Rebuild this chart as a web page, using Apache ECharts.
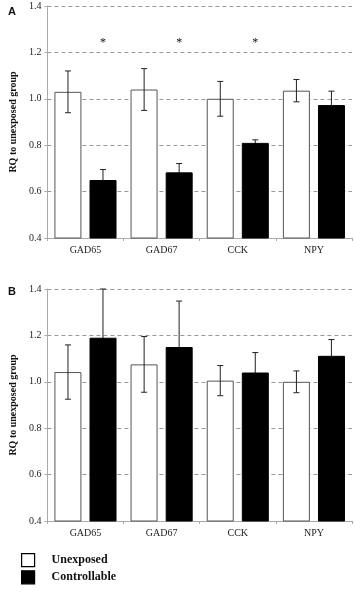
<!DOCTYPE html>
<html>
<head>
<meta charset="utf-8">
<script src="https://cdn.jsdelivr.net/npm/echarts@6/dist/echarts.min.js"></script>
<style>html,body{margin:0;padding:0;background:#fff}#main{width:355px;height:600px}</style>
</head>
<body>
<div id="main"></div>
<script>
var genes = ['GAD65', 'GAD67', 'CCK', 'NPY'];
var yTicks = [0.4, 0.6, 0.8, 1.0, 1.2, 1.4];

// panel A
var unexpA = [1.03, 1.04, 1.00, 1.035];
var unexpErrA = [0.09, 0.09, 0.075, 0.048];
var ctrlA = [0.65, 0.683, 0.81, 0.973];
var ctrlErrA = [0.045, 0.038, 0.013, 0.06];
var starsA = [0, 1, 2];   // categories marked *
var starLevel = 1.24;

// panel B
var unexpB = [1.042, 1.075, 1.005, 1.0];
var unexpErrB = [0.117, 0.12, 0.065, 0.047];
var ctrlB = [1.19, 1.15, 1.04, 1.112];
var ctrlErrB = [0.21, 0.198, 0.086, 0.07];

var BAR_W = 27;
var OFFSET = 17.5;
var serif = '"Liberation Serif", "DejaVu Serif", serif';

var chart = echarts.init(document.getElementById('main'));

function errData(vals, errs) {
  return vals.map(function (v, i) { return [i, v, errs[i]]; });
}

function errRenderer(dx) {
  return function (params, api) {
    var i = api.value(0), m = api.value(1), e = api.value(2);
    var top = api.coord([i, m + e]);
    var bot = api.coord([i, m - e]);
    var x = top[0] + dx;
    var st = { stroke: '#222', lineWidth: 1 };
    return {
      type: 'group',
      children: [
        { type: 'line', shape: { x1: x, y1: top[1], x2: x, y2: bot[1] }, style: st },
        { type: 'line', shape: { x1: x - 3, y1: top[1], x2: x + 3, y2: top[1] }, style: st },
        { type: 'line', shape: { x1: x - 3, y1: bot[1], x2: x + 3, y2: bot[1] }, style: st }
      ]
    };
  };
}

function xAxis(gi) {
  return {
    type: 'category', gridIndex: gi, data: genes,
    axisLine: { lineStyle: { color: '#aaa' } },
    axisTick: { show: true, length: 3, lineStyle: { color: '#aaa' } },
    axisLabel: { fontFamily: serif, fontSize: 10, color: '#222', margin: 7 }
  };
}

function yAxis(gi) {
  return {
    type: 'value', gridIndex: gi, min: yTicks[0], max: yTicks[yTicks.length - 1], interval: 0.2,
    name: 'RQ to unexposed group', nameLocation: 'middle', nameGap: 27,
    nameTextStyle: { fontFamily: serif, fontSize: 10, fontWeight: 'bold', color: '#111' },
    axisLine: { show: true, lineStyle: { color: '#aaa' } },
    axisTick: { show: true, length: 3, lineStyle: { color: '#aaa' } },
    axisLabel: { fontFamily: serif, fontSize: 10, color: '#222', margin: 6,
      formatter: function (v) { return v.toFixed(1); } },
    splitLine: { show: true, lineStyle: { color: '#999', type: [4, 3] } }
  };
}

function barSeries(name, gi, vals, white) {
  return {
    name: name, type: 'bar', xAxisIndex: gi, yAxisIndex: gi, z: 2,
    data: vals, barWidth: BAR_W, barGap: '30%',
    itemStyle: white ? { color: '#fff', borderColor: '#555', borderWidth: 1 }
                     : { color: '#000', borderColor: '#000', borderWidth: 1 }
  };
}

// white-bar error bars sit on top; black-bar ones sit behind so the bar hides the lower half
function errSeries(gi, vals, errs, dx, z) {
  return {
    type: 'custom', xAxisIndex: gi, yAxisIndex: gi, z: z,
    data: errData(vals, errs), renderItem: errRenderer(dx)
  };
}

var option = {
  animation: false,
  grid: [
    { left: 43, right: 3, top: 6, height: 232 },
    { left: 43, right: 3, top: 289, height: 232 }
  ],
  xAxis: [xAxis(0), xAxis(1)],
  yAxis: [yAxis(0), yAxis(1)],
  legend: {
    orient: 'vertical', left: 16, top: 548, itemGap: 3,
    itemWidth: 13, itemHeight: 13, icon: 'rect',
    data: ['Unexposed', 'Controllable'],
    itemStyle: { borderColor: '#000', borderWidth: 1.2 },
    textStyle: { fontFamily: serif, fontSize: 12, fontWeight: 'bold', color: '#111', padding: [0, 0, 0, 12] }
  },
  graphic: [
    { type: 'text', left: 8, top: 6, style: { text: 'A', font: 'bold 11px "Liberation Sans", Arial, sans-serif', fill: '#111' } },
    { type: 'text', left: 8, top: 286, style: { text: 'B', font: 'bold 11px "Liberation Sans", Arial, sans-serif', fill: '#111' } }
  ],
  series: [
    barSeries('Unexposed', 0, unexpA, true),
    barSeries('Controllable', 0, ctrlA, false),
    errSeries(0, unexpA, unexpErrA, -OFFSET, 5),
    errSeries(0, ctrlA, ctrlErrA, OFFSET, 1),
    {
      type: 'custom', xAxisIndex: 0, yAxisIndex: 0, z: 6,
      data: starsA.map(function (i) { return [i, starLevel]; }),
      renderItem: function (params, api) {
        var p = api.coord([api.value(0), api.value(1)]);
        return { type: 'text', x: p[0] + OFFSET, y: p[1],
          style: { text: '*', font: '12px ' + serif, fill: '#111', align: 'center', verticalAlign: 'middle' } };
      }
    },
    barSeries('Unexposed', 1, unexpB, true),
    barSeries('Controllable', 1, ctrlB, false),
    errSeries(1, unexpB, unexpErrB, -OFFSET, 5),
    errSeries(1, ctrlB, ctrlErrB, OFFSET, 1)
  ]
};
chart.setOption(option);
window.addEventListener('resize', function () { chart.resize(); });
</script>
</body>
</html>
